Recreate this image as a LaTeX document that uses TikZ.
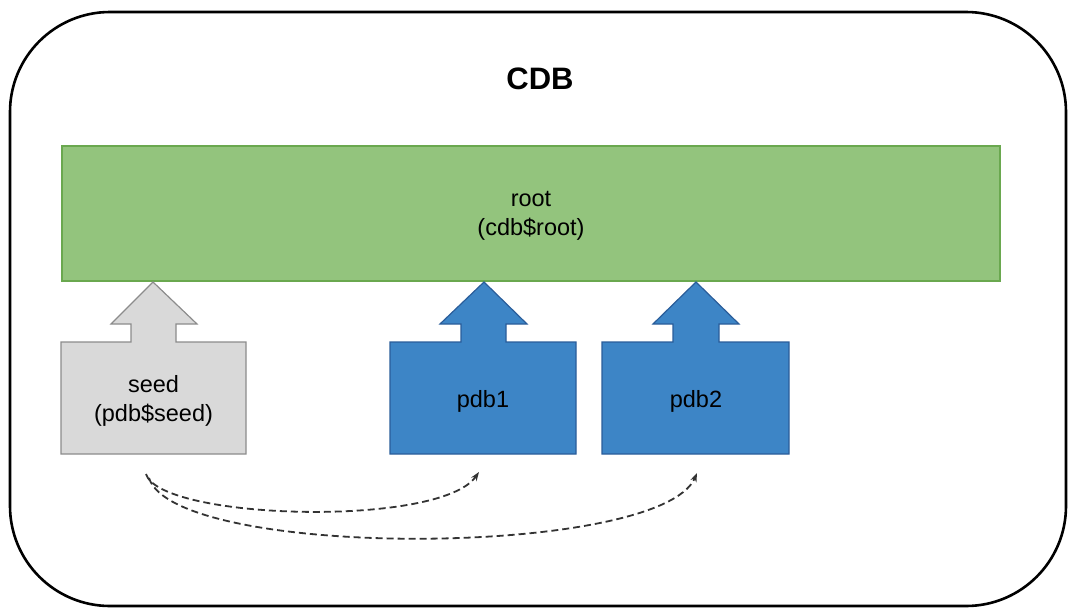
\documentclass[tikz,border=0pt]{standalone}
\usepackage{fontspec}
\setmainfont{Liberation Sans}
\usetikzlibrary{arrows.meta}
\definecolor{greenfill}{HTML}{93C47D}
\definecolor{greenline}{HTML}{6AA84F}
\definecolor{greyfill}{HTML}{D9D9D9}
\definecolor{greyline}{HTML}{8C8C8C}
\definecolor{bluefill}{HTML}{3D85C6}
\definecolor{blueline}{HTML}{2A5D9A}
\tikzset{
  lbl/.style={align=center, font=\fontsize{23.5}{29.5}\selectfont, inner sep=0pt},
  greyshape/.style={fill=greyfill, draw=greyline, line width=1.2pt},
  blueshape/.style={fill=bluefill, draw=blueline, line width=1.2pt},
  clonearrow/.style={dash pattern=on 7pt off 4pt, line width=1.8pt, black!80, -{Stealth[length=9pt,width=6.5pt]}}
}
\newcommand{\upbox}[8]{% style, boxL, boxR, shaftL, shaftR, headL, headR, tipx
  \path[#1] (#2,454) -- (#2,342) -- (#4,342) -- (#4,324) -- (#6,324) -- (#8,282)
    -- (#7,324) -- (#5,324) -- (#5,342) -- (#3,342) -- (#3,454) -- cycle;
}
\begin{document}
\begin{tikzpicture}[x=1pt,y=-1pt]
\useasboundingbox (0,0) rectangle (1069,608);
\draw[line width=2.6pt, rounded corners=100pt] (10,12) rectangle (1066,606);
\node[font=\fontsize{31}{36}\selectfont\bfseries, inner sep=0pt] (cdb) at (540,79) {CDB};
\node[fill=greenfill, draw=greenline, line width=1.2pt, minimum width=938pt, minimum height=135pt, inner sep=0pt] (root) at (531,213.5) {};
\node[lbl] (rootlbl) at (531,216) {root\\(cdb\$root)};
\upbox{greyshape}{61}{246}{131}{176}{111}{197}{153}
\upbox{blueshape}{390}{576}{461}{506}{440}{527}{484}
\upbox{blueshape}{602}{789}{673}{719}{653}{739}{696}
\node[lbl] (seed) at (153.5,401) {seed\\(pdb\$seed)};
\node[lbl] (pdb1) at (483,401) {pdb1};
\node[lbl] (pdb2) at (696,401) {pdb2};
\coordinate (s1) at (146,474);
\coordinate (s2) at (149,478);
\coordinate (e1) at (479,472);
\coordinate (e2) at (697,473);
\draw[clonearrow] (s1) .. controls (160,520) and (440,528) .. (e1);
\draw[clonearrow] (s2) .. controls (175,560) and (660,558) .. (e2);
\end{tikzpicture}
\end{document}
